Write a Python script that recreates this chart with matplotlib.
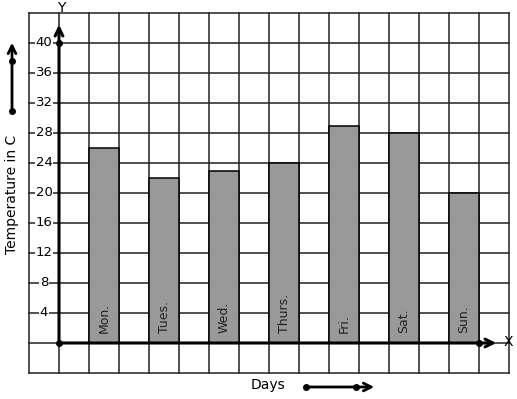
import matplotlib as mpl
mpl.use('Agg')
import matplotlib.pyplot as plt

days = ["Mon.", "Tues.", "Wed.", "Thurs.", "Fri.", "Sat.", "Sun."]
temps = [26, 22, 23, 24, 29, 28, 20]
bar_pos = [1.5, 3.5, 5.5, 7.5, 9.5, 11.5, 13.5]
ytick_vals = [4, 8, 12, 16, 20, 24, 28, 32, 36, 40]

W, H = 517, 399
# pixel layout: origin at (59, 343), 30 px per x unit, 7.5 px per y unit
X0, Y0, SX, SY = 59, 343, 30.0, 7.5


def px(x, y):
    # image pixel -> data coordinates
    return (x - X0) / SX, (Y0 - y) / SY


fig = plt.figure(figsize=(W / 100, H / 100), dpi=100)
ax = fig.add_axes([0, 0, 1, 1])
ax.set_xlim(px(0, 0)[0], px(W, 0)[0])
ax.set_ylim(px(0, H)[1], px(0, 0)[1])
ax.axis('off')

gc = '#222222'
# grid
for gx in range(-1, 16):
    ax.plot([gx, gx], [-4, 44], color=gc, lw=1.1, zorder=1)
for gy in range(-4, 45, 4):
    ax.plot([-1, 15], [gy, gy], color=gc, lw=1.1, zorder=1)

# bars
ax.bar(bar_pos, temps, width=1, color='#999999', edgecolor='black', lw=1.1, zorder=2)
for x, d in zip(bar_pos, days):
    ax.text(x, 1.3, d, rotation=90, ha='center', va='bottom', fontsize=9,
            color='#222222', zorder=3)

# axes with arrows
ax.annotate('', xy=(0, px(0, 22)[1]), xytext=(0, 0),
            arrowprops=dict(arrowstyle='->', lw=2.2, color='black', mutation_scale=14), zorder=4)
ax.annotate('', xy=(px(499, 0)[0], 0), xytext=(0, 0),
            arrowprops=dict(arrowstyle='->', lw=2.2, color='black', mutation_scale=14), zorder=4)
ax.plot([0, 0, 14], [0, 40, 0], 'o', color='black', ms=4, zorder=5)
ax.text(*px(61, 8), 'Y', ha='center', va='center', fontsize=10, zorder=5)
ax.text(*px(508, 342), 'X', ha='center', va='center', fontsize=10, zorder=5)

# y tick labels
for v in ytick_vals:
    ax.text(-0.5, v, str(v), ha='center', va='center', fontsize=9.5,
            bbox=dict(facecolor='white', edgecolor='none', pad=0.5), zorder=3)

# axis titles with arrows
ax.text(*px(12, 194), 'Temperature in C', rotation=90, ha='center', va='center', fontsize=10)
ax.annotate('', xy=px(12, 40), xytext=px(12, 111),
            arrowprops=dict(arrowstyle='->', lw=2.0, color='black', mutation_scale=14))
ax.plot(*zip(px(12, 111), px(12, 61)), 'o', color='black', ms=4, ls='none')

ax.text(*px(268, 385), 'Days', ha='center', va='center', fontsize=10)
ax.annotate('', xy=px(377, 387), xytext=px(306, 387),
            arrowprops=dict(arrowstyle='->', lw=2.0, color='black', mutation_scale=14))
ax.plot(*zip(px(306, 387), px(356, 387)), 'o', color='black', ms=4, ls='none')

fig.savefig('out.png', dpi=100)
